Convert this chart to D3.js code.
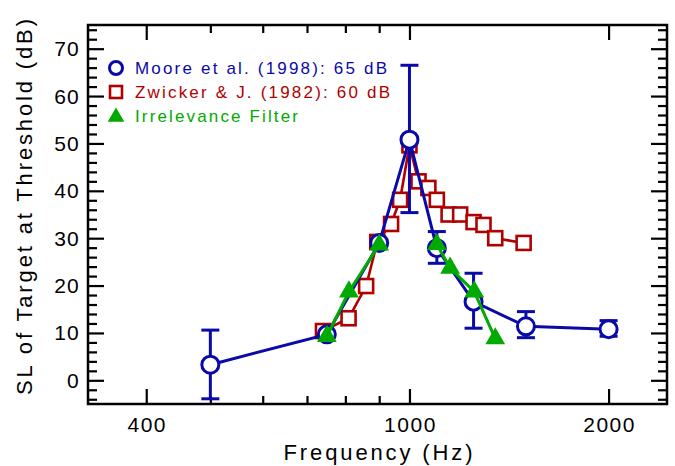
<!DOCTYPE html>
<html>
<head>
<meta charset="utf-8">
<script src="https://cdn.jsdelivr.net/npm/d3@7"></script>
<style>
  html, body { margin: 0; padding: 0; background: #fff; }
  svg { display: block; }
  text { font-family: "Liberation Sans", Arial, sans-serif; }
  .axis path { display: none; }
  .axis line { stroke: #000; stroke-width: 2.2px; }
</style>
</head>
<body>
<svg width="675" height="466"></svg>
<script>
// Moore et al. (1998): 65 dB
const mooreFreq = [500, 750, 900, 1000, 1100, 1250, 1500, 2000];
const mooreSL   = [3.3, 9.7, 29.0, 50.8, 27.9, 16.6, 11.4, 10.8];
const mooreLo   = [-3.9, null, null, 35.4, 24.7, 11.0, 9.0, 9.3];
const mooreHi   = [10.6, null, null, 66.5, 31.4, 22.6, 14.5, 12.6];

// Zwicker & J. (1982): 60 dB
const zwFreq = [740, 809, 860, 894, 938, 968, 1000, 1032, 1068, 1100, 1146, 1193, 1250, 1294, 1348, 1488];
const zwSL   = [10.4, 13.1, 19.9, 29.2, 33.0, 38.1, 49.6, 42.0, 40.6, 38.1, 35.0, 35.0, 33.4, 32.8, 30.0, 29.0];

// Irrelevance filter, two separate flanks
const irrLowFreq  = [750, 810, 900];
const irrLowSL    = [9.3, 18.7, 28.6];
const irrHighFreq = [1100, 1152, 1253, 1348];
const irrHighSL   = [28.7, 23.7, 18.7, 8.8];

const xMajor = [400, 1000, 2000];
const xMinor = [500, 600, 700, 800, 900];
const yMajor = [0, 10, 20, 30, 40, 50, 60, 70];
const yMinor = [-4, -2, 2, 4, 6, 8, 12, 14, 16, 18, 22, 24, 26, 28, 32, 34, 36, 38,
                42, 44, 46, 48, 52, 54, 56, 58, 62, 64, 66, 68, 72, 74];

const blue = "#0a0aa8", red = "#b00000", green = "#00aa00";

const x0 = 88, x1 = 667, y0 = 25, y1 = 404;
const svg = d3.select("svg");

const x = d3.scaleLog().domain([326.6, 2451]).range([x0, x1]);
const y = d3.scaleLinear().domain([-5, 75]).range([y1, y0]);

// ticks, inward on all four sides
function ticks(axisFn, scale, values, size, tx, ty) {
  svg.append("g").attr("class", "axis")
    .attr("transform", `translate(${tx},${ty})`)
    .call(axisFn(scale).tickValues(values).tickSize(size).tickFormat(""));
}
ticks(d3.axisBottom, x, xMajor, -15, 0, y1);
ticks(d3.axisBottom, x, xMinor, -8, 0, y1);
ticks(d3.axisTop, x, xMajor, -15, 0, y0);
ticks(d3.axisTop, x, xMinor, -8, 0, y0);
ticks(d3.axisLeft, y, yMajor, -16, x0, 0);
ticks(d3.axisLeft, y, yMinor, -9, x0, 0);
ticks(d3.axisRight, y, yMajor, -16, x1, 0);
ticks(d3.axisRight, y, yMinor, -9, x1, 0);

svg.append("rect")
  .attr("x", x0).attr("y", y0)
  .attr("width", x1 - x0).attr("height", y1 - y0)
  .attr("fill", "none").attr("stroke", "#000").attr("stroke-width", 2.5);

// tick labels
svg.append("g").selectAll("text").data(xMajor).join("text")
  .attr("x", d => x(d) + 1).attr("y", 432)
  .attr("text-anchor", "middle")
  .attr("font-size", 21).attr("letter-spacing", 1.5)
  .text(d => d);

svg.append("g").selectAll("text").data(yMajor).join("text")
  .attr("x", 80).attr("y", d => y(d) + 7.5)
  .attr("text-anchor", "end")
  .attr("font-size", 21).attr("letter-spacing", 1.2)
  .text(d => d);

// axis titles
svg.append("text")
  .attr("x", 378).attr("y", 460)
  .attr("text-anchor", "middle")
  .attr("font-size", 22)
  .attr("textLength", 189).attr("lengthAdjust", "spacing")
  .text("Frequency (Hz)");

svg.append("text")
  .attr("transform", "translate(32,207) rotate(-90)")
  .attr("text-anchor", "middle")
  .attr("font-size", 22)
  .attr("textLength", 376).attr("lengthAdjust", "spacing")
  .text("SL of Target at Threshold (dB)");

const line = d3.line().x(d => x(d[0])).y(d => y(d[1]));

// Zwicker (red squares)
const zw = zwFreq.map((f, i) => [f, zwSL[i]]);
svg.append("path").datum(zw).attr("d", line)
  .attr("fill", "none").attr("stroke", red).attr("stroke-width", 2.6);
svg.append("g").selectAll("rect").data(zw).join("rect")
  .attr("x", d => x(d[0]) - 7).attr("y", d => y(d[1]) - 7)
  .attr("width", 14).attr("height", 14)
  .attr("fill", "#fff").attr("stroke", red).attr("stroke-width", 2.6);

// Moore (blue circles with error bars)
const mo = mooreFreq.map((f, i) => [f, mooreSL[i], mooreLo[i], mooreHi[i]]);
svg.append("path").datum(mo).attr("d", line)
  .attr("fill", "none").attr("stroke", blue).attr("stroke-width", 3);
const eb = svg.append("g").selectAll("g").data(mo.filter(d => d[2] !== null)).join("g")
  .attr("stroke", blue).attr("stroke-width", 3);
eb.append("line")
  .attr("x1", d => x(d[0])).attr("x2", d => x(d[0]))
  .attr("y1", d => y(d[2])).attr("y2", d => y(d[3]));
eb.append("line")
  .attr("x1", d => x(d[0]) - 9).attr("x2", d => x(d[0]) + 9)
  .attr("y1", d => y(d[2])).attr("y2", d => y(d[2]));
eb.append("line")
  .attr("x1", d => x(d[0]) - 9).attr("x2", d => x(d[0]) + 9)
  .attr("y1", d => y(d[3])).attr("y2", d => y(d[3]));
svg.append("g").selectAll("circle").data(mo).join("circle")
  .attr("cx", d => x(d[0])).attr("cy", d => y(d[1])).attr("r", 8.5)
  .attr("fill", "#fff").attr("stroke", blue).attr("stroke-width", 3);

// Irrelevance filter (green triangles)
const tri = d3.symbol().type(d3.symbolTriangle).size(170);
[[irrLowFreq, irrLowSL], [irrHighFreq, irrHighSL]].forEach(([fs, vs]) => {
  const pts = fs.map((f, i) => [f, vs[i]]);
  svg.append("path").datum(pts).attr("d", line)
    .attr("fill", "none").attr("stroke", green).attr("stroke-width", 3);
  svg.append("g").selectAll("path").data(pts).join("path")
    .attr("d", tri)
    .attr("transform", d => `translate(${x(d[0])},${y(d[1])})`)
    .attr("fill", green);
});

// legend
const legend = [
  { label: "Moore et al. (1998): 65 dB", color: blue, len: 252, kind: "circle" },
  { label: "Zwicker & J. (1982): 60 dB", color: red, len: 255, kind: "square" },
  { label: "Irrelevance Filter", color: green, len: 163, kind: "triangle" }
];
legend.forEach((d, i) => {
  const cy = 68 + i * 24;
  if (d.kind === "circle") {
    svg.append("circle").attr("cx", 116).attr("cy", cy).attr("r", 6.5)
      .attr("fill", "#fff").attr("stroke", d.color).attr("stroke-width", 3);
  } else if (d.kind === "square") {
    svg.append("rect").attr("x", 110).attr("y", cy - 6).attr("width", 12).attr("height", 12)
      .attr("fill", "#fff").attr("stroke", d.color).attr("stroke-width", 2.6);
  } else {
    svg.append("path").attr("d", d3.symbol().type(d3.symbolTriangle).size(120)())
      .attr("transform", `translate(116,${cy + 1})`).attr("fill", d.color);
  }
  svg.append("text")
    .attr("x", 135).attr("y", cy + 6)
    .attr("font-size", 17).attr("fill", d.color)
    .attr("textLength", d.len).attr("lengthAdjust", "spacing")
    .text(d.label);
});
</script>
</body>
</html>
